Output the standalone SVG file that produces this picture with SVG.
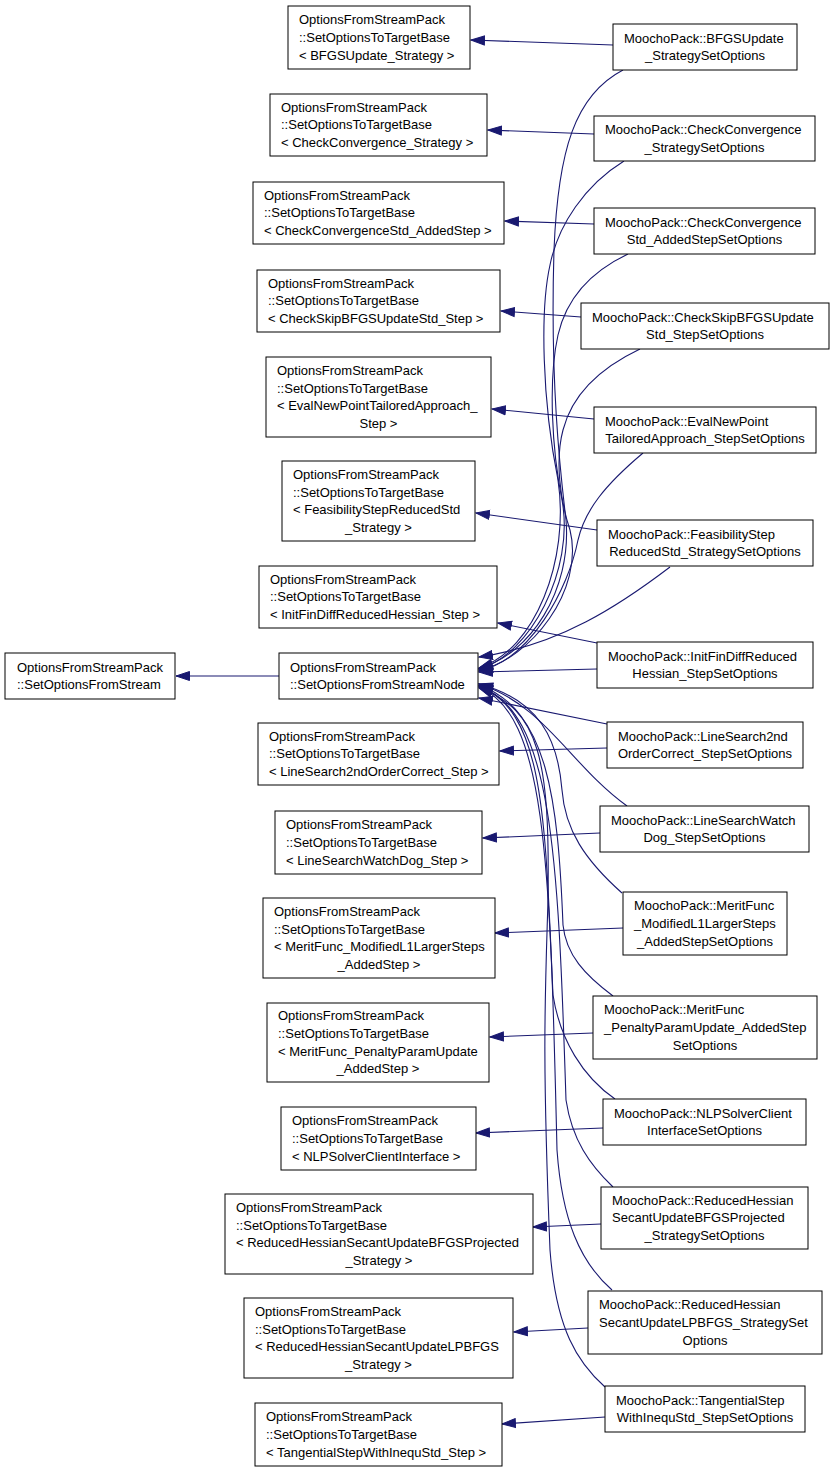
<svg xmlns="http://www.w3.org/2000/svg" width="835" height="1472" viewBox="0 0 835 1472">
<style>
.b{fill:#fff;stroke:#000;stroke-width:1}
text{font-family:"Liberation Sans",Arial,sans-serif;font-size:13px;fill:#000}
.m{text-anchor:middle}
.e{fill:none;stroke:#191970;stroke-width:1.1;marker-end:url(#a)}
</style>
<defs>
<marker id="a" markerUnits="userSpaceOnUse" markerWidth="15" markerHeight="11" refX="14" refY="5.5" orient="auto">
<path d="M0.5,1 L14,5.5 L0.5,10 Z" fill="#191970" stroke="#191970" stroke-width="1"/>
</marker>
</defs>
<rect width="835" height="1472" fill="#fff"/>
<g id="edges">
<path class="e" d="M279,676 L176,676"/>
<path class="e" d="M613,45 L471,40"/>
<path class="e" d="M594,134 L488,130"/>
<path class="e" d="M594,224 L505,221"/>
<path class="e" d="M581,317 L501,311"/>
<path class="e" d="M594,419 L492,409"/>
<path class="e" d="M597,530 L476,513"/>
<path class="e" d="M597,643 L498,623"/>
<path class="e" d="M607,748 L500,751"/>
<path class="e" d="M600,833 L483,838"/>
<path class="e" d="M623,928 L495,933"/>
<path class="e" d="M593,1033 L490,1037"/>
<path class="e" d="M603,1128 L476,1133"/>
<path class="e" d="M601,1224 L533,1227"/>
<path class="e" d="M588,1328 L514,1332"/>
<path class="e" d="M605,1417 L502,1424"/>
<path class="e" d="M623,70 C575,95 558,150 554,250 C550,380 560,470 566,520 C572,590 530,655 479,668"/>
<path class="e" d="M624,161 C585,185 558,225 550,265 C540,310 542,400 558,480 C570,560 535,650 479,668"/>
<path class="e" d="M628,254 C590,272 566,300 558,335 C548,380 552,450 562,500 C575,570 530,655 479,669"/>
<path class="e" d="M640,349 C600,368 572,395 563,430 C555,460 560,500 570,530 C585,590 530,660 479,670"/>
<path class="e" d="M643,453 C605,485 585,510 578,540 C568,590 530,660 479,671"/>
<path class="e" d="M670,567 C620,605 560,645 479,657"/>
<path class="e" d="M597,669 L479,672"/>
<path class="e" d="M607,724 L479,698"/>
<path class="e" d="M627,806 C570,765 545,705 479,684"/>
<path class="e" d="M622,893 C585,860 565,830 562,790 C558,740 540,700 479,684"/>
<path class="e" d="M613,996 C585,975 566,955 563,925 C558,800 548,710 479,685"/>
<path class="e" d="M615,1099 C583,1077 560,1040 553,995 C545,820 545,712 479,686"/>
<path class="e" d="M613,1187 C590,1165 572,1140 566,1100 C558,850 552,712 479,686"/>
<path class="e" d="M612,1290 C580,1262 562,1220 557,1150 C550,850 545,715 479,687"/>
<path class="e" d="M605,1387 C578,1363 556,1330 550,1250 C542,1050 545,1000 548,900 C550,760 540,710 479,688"/>
</g>
<g id="S"><rect class="b" x="5" y="653" width="170" height="46"/><text x="17" y="671.5">OptionsFromStreamPack</text><text x="17" y="689.2">::SetOptionsFromStream</text></g>
<g id="N"><rect class="b" x="279" y="653" width="199" height="46"/><text x="290" y="671.5">OptionsFromStreamPack</text><text x="290" y="689.2">::SetOptionsFromStreamNode</text></g>
<g id="T1"><rect class="b" x="288" y="6" width="182" height="63"/><text x="299" y="24.1">OptionsFromStreamPack</text><text x="299" y="41.8">::SetOptionsToTargetBase</text><text x="299" y="59.5">&lt; BFGSUpdate_Strategy &gt;</text></g>
<g id="T2"><rect class="b" x="270" y="94" width="217" height="62"/><text x="281" y="111.6">OptionsFromStreamPack</text><text x="281" y="129.3">::SetOptionsToTargetBase</text><text x="281" y="147">&lt; CheckConvergence_Strategy &gt;</text></g>
<g id="T3"><rect class="b" x="253" y="182" width="251" height="62"/><text x="264" y="199.6">OptionsFromStreamPack</text><text x="264" y="217.3">::SetOptionsToTargetBase</text><text x="264" y="235">&lt; CheckConvergenceStd_AddedStep &gt;</text></g>
<g id="T4"><rect class="b" x="257" y="270" width="243" height="62"/><text x="268" y="287.6">OptionsFromStreamPack</text><text x="268" y="305.3">::SetOptionsToTargetBase</text><text x="268" y="323">&lt; CheckSkipBFGSUpdateStd_Step &gt;</text></g>
<g id="T5"><rect class="b" x="266" y="357" width="225" height="80"/><text x="277" y="374.8">OptionsFromStreamPack</text><text x="277" y="392.5">::SetOptionsToTargetBase</text><text x="277" y="410.2">&lt; EvalNewPointTailoredApproach_</text><text class="m" x="378.5" y="427.9">Step &gt;</text></g>
<g id="T6"><rect class="b" x="282" y="461" width="193" height="80"/><text x="293" y="478.8">OptionsFromStreamPack</text><text x="293" y="496.5">::SetOptionsToTargetBase</text><text x="293" y="514.2">&lt; FeasibilityStepReducedStd</text><text class="m" x="378.5" y="531.9">_Strategy &gt;</text></g>
<g id="T7"><rect class="b" x="259" y="566" width="238" height="62"/><text x="270" y="583.6">OptionsFromStreamPack</text><text x="270" y="601.3">::SetOptionsToTargetBase</text><text x="270" y="619">&lt; InitFinDiffReducedHessian_Step &gt;</text></g>
<g id="T8"><rect class="b" x="258" y="723" width="241" height="62"/><text x="269" y="740.6">OptionsFromStreamPack</text><text x="269" y="758.3">::SetOptionsToTargetBase</text><text x="269" y="776">&lt; LineSearch2ndOrderCorrect_Step &gt;</text></g>
<g id="T9"><rect class="b" x="275" y="811" width="207" height="63"/><text x="286" y="829.1">OptionsFromStreamPack</text><text x="286" y="846.8">::SetOptionsToTargetBase</text><text x="286" y="864.5">&lt; LineSearchWatchDog_Step &gt;</text></g>
<g id="T10"><rect class="b" x="263" y="898" width="232" height="80"/><text x="274" y="915.8">OptionsFromStreamPack</text><text x="274" y="933.5">::SetOptionsToTargetBase</text><text x="274" y="951.2">&lt; MeritFunc_ModifiedL1LargerSteps</text><text class="m" x="379" y="968.9">_AddedStep &gt;</text></g>
<g id="T11"><rect class="b" x="267" y="1003" width="222" height="79"/><text x="278" y="1020.3">OptionsFromStreamPack</text><text x="278" y="1038">::SetOptionsToTargetBase</text><text x="278" y="1055.7">&lt; MeritFunc_PenaltyParamUpdate</text><text class="m" x="378" y="1073.4">_AddedStep &gt;</text></g>
<g id="T12"><rect class="b" x="281" y="1107" width="195" height="63"/><text x="292" y="1125.1">OptionsFromStreamPack</text><text x="292" y="1142.8">::SetOptionsToTargetBase</text><text x="292" y="1160.5">&lt; NLPSolverClientInterface &gt;</text></g>
<g id="T13"><rect class="b" x="225" y="1194" width="308" height="80"/><text x="236" y="1211.8">OptionsFromStreamPack</text><text x="236" y="1229.5">::SetOptionsToTargetBase</text><text x="236" y="1247.2">&lt; ReducedHessianSecantUpdateBFGSProjected</text><text class="m" x="379" y="1264.9">_Strategy &gt;</text></g>
<g id="T14"><rect class="b" x="244" y="1298" width="269" height="80"/><text x="255" y="1315.8">OptionsFromStreamPack</text><text x="255" y="1333.5">::SetOptionsToTargetBase</text><text x="255" y="1351.2">&lt; ReducedHessianSecantUpdateLPBFGS</text><text class="m" x="378.5" y="1368.9">_Strategy &gt;</text></g>
<g id="T15"><rect class="b" x="255" y="1403" width="247" height="63"/><text x="266" y="1421.1">OptionsFromStreamPack</text><text x="266" y="1438.8">::SetOptionsToTargetBase</text><text x="266" y="1456.5">&lt; TangentialStepWithInequStd_Step &gt;</text></g>
<g id="R1"><rect class="b" x="613" y="24" width="184" height="46"/><text x="624" y="42.5">MoochoPack::BFGSUpdate</text><text class="m" x="705" y="60.2">_StrategySetOptions</text></g>
<g id="R2"><rect class="b" x="594" y="116" width="221" height="45"/><text x="605" y="134">MoochoPack::CheckConvergence</text><text class="m" x="704.5" y="151.7">_StrategySetOptions</text></g>
<g id="R3"><rect class="b" x="594" y="208" width="221" height="46"/><text x="605" y="226.5">MoochoPack::CheckConvergence</text><text class="m" x="704.5" y="244.2">Std_AddedStepSetOptions</text></g>
<g id="R4"><rect class="b" x="581" y="303" width="248" height="46"/><text x="592" y="321.5">MoochoPack::CheckSkipBFGSUpdate</text><text class="m" x="705" y="339.2">Std_StepSetOptions</text></g>
<g id="R5"><rect class="b" x="594" y="407" width="222" height="46"/><text x="605" y="425.5">MoochoPack::EvalNewPoint</text><text class="m" x="705" y="443.2">TailoredApproach_StepSetOptions</text></g>
<g id="R6"><rect class="b" x="597" y="520" width="216" height="46"/><text x="608" y="538.5">MoochoPack::FeasibilityStep</text><text class="m" x="705" y="556.2">ReducedStd_StrategySetOptions</text></g>
<g id="R7"><rect class="b" x="597" y="642" width="216" height="46"/><text x="608" y="660.5">MoochoPack::InitFinDiffReduced</text><text class="m" x="705" y="678.2">Hessian_StepSetOptions</text></g>
<g id="R8"><rect class="b" x="607" y="722" width="196" height="46"/><text x="618" y="740.5">MoochoPack::LineSearch2nd</text><text class="m" x="705" y="758.2">OrderCorrect_StepSetOptions</text></g>
<g id="R9"><rect class="b" x="600" y="806" width="209" height="46"/><text x="611" y="824.5">MoochoPack::LineSearchWatch</text><text class="m" x="704.5" y="842.2">Dog_StepSetOptions</text></g>
<g id="R10"><rect class="b" x="623" y="892" width="164" height="63"/><text x="634" y="910.1">MoochoPack::MeritFunc</text><text x="634" y="927.8">_ModifiedL1LargerSteps</text><text class="m" x="705" y="945.5">_AddedStepSetOptions</text></g>
<g id="R11"><rect class="b" x="593" y="996" width="224" height="63"/><text x="604" y="1014.1">MoochoPack::MeritFunc</text><text x="604" y="1031.8">_PenaltyParamUpdate_AddedStep</text><text class="m" x="705" y="1049.5">SetOptions</text></g>
<g id="R12"><rect class="b" x="603" y="1099" width="203" height="46"/><text x="614" y="1117.5">MoochoPack::NLPSolverClient</text><text class="m" x="704.5" y="1135.2">InterfaceSetOptions</text></g>
<g id="R13"><rect class="b" x="601" y="1187" width="207" height="62"/><text x="612" y="1204.6">MoochoPack::ReducedHessian</text><text x="612" y="1222.3">SecantUpdateBFGSProjected</text><text class="m" x="704.5" y="1240">_StrategySetOptions</text></g>
<g id="R14"><rect class="b" x="588" y="1291" width="234" height="63"/><text x="599" y="1309.1">MoochoPack::ReducedHessian</text><text x="599" y="1326.8">SecantUpdateLPBFGS_StrategySet</text><text class="m" x="705" y="1344.5">Options</text></g>
<g id="R15"><rect class="b" x="605" y="1386" width="200" height="46"/><text x="616" y="1404.5">MoochoPack::TangentialStep</text><text class="m" x="705" y="1422.2">WithInequStd_StepSetOptions</text></g>
</svg>
